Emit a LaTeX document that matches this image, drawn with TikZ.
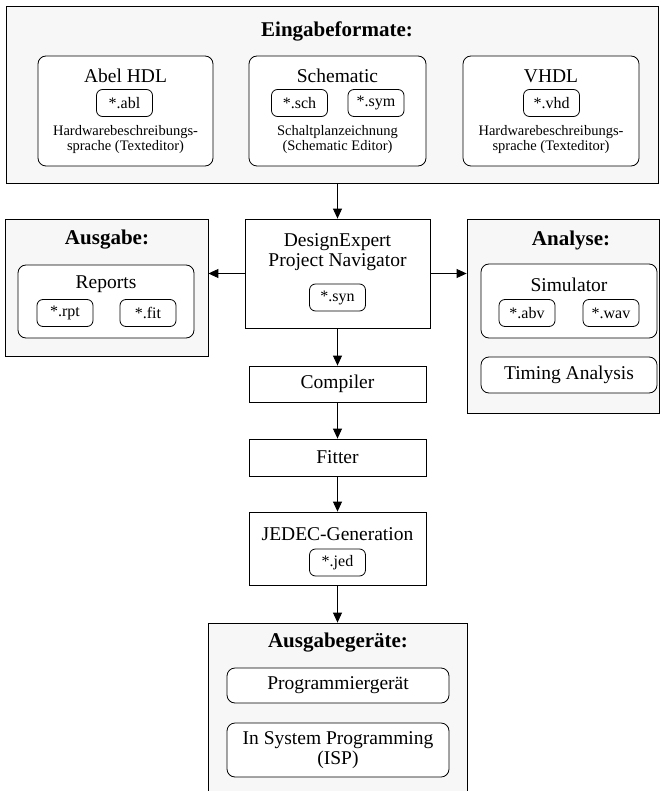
\documentclass[tikz,border=0pt]{standalone}
\usepackage{fontspec}
\setmainfont{Liberation Serif}
\usepackage{tikz}
\usetikzlibrary{shapes,arrows.meta}

\tikzset{
  box/.style={draw, line width=0.8pt, fill=white, inner sep=0pt},
  grp/.style={box, fill=gray!6},
  rbox/.style={box, rounded corners=8pt},
  file/.style={box, rounded corners=6pt, minimum width=56pt, minimum height=27pt,
    font=\fontsize{16}{18}\selectfont},
  title/.style={font=\fontsize{21}{23}\selectfont\bfseries},
  lbl/.style={font=\fontsize{19.5}{20.5}\selectfont, align=center},
  note/.style={font=\fontsize{14.5}{15.5}\selectfont, align=center},
  arr/.style={-{Triangle[length=10pt,width=9pt]}, line width=0.9pt},
}

\begin{document}
\begin{tikzpicture}[x=1pt, y=-1pt]
\clip (0,0) rectangle (661,791);

% Input formats
\node[grp, minimum width=652pt, minimum height=177pt] (eingabe) at (332,94.5) {};
\node[title] at (337,31) {Eingabeformate:};

\node[rbox, minimum width=175pt, minimum height=110pt] (abel) at (125.5,111) {};
\node[lbl] at (125.5,76) {Abel HDL};
\node[file] (abl) at (124.5,103) {*.abl};
\node[note] at (125.5,139.5) {Hardwarebeschreibungs-\\sprache (Texteditor)};

\node[rbox, minimum width=177pt, minimum height=110pt] (schematic) at (337.5,111) {};
\node[lbl] at (337.5,76) {Schematic};
\node[file] (sch) at (299.5,103) {*.sch};
\node[file] (sym) at (376,103) {*.sym};
\node[note] at (337.5,139.5) {Schaltplanzeichnung\\(Schematic Editor)};

\node[rbox, minimum width=176pt, minimum height=110pt] (vhdl) at (551,111) {};
\node[lbl] at (551,76) {VHDL};
\node[file] (vhd) at (551.5,103) {*.vhd};
\node[note] at (551,139.5) {Hardwarebeschreibungs-\\sprache (Texteditor)};

% Project navigator
\node[box, minimum width=185pt, minimum height=109pt] (design) at (337.5,273.5) {};
\node[lbl] at (337.5,252) {DesignExpert\\Project Navigator};
\node[file] (syn) at (337.5,297.5) {*.syn};

% Output
\node[grp, minimum width=203pt, minimum height=137pt] (ausgabe) at (106.5,287.5) {};
\node[title] at (107,240) {Ausgabe:};
\node[rbox, minimum width=176pt, minimum height=73pt] (reports) at (106,301.5) {};
\node[lbl] at (106,284) {Reports};
\node[file] (rpt) at (65,313) {*.rpt};
\node[file] (fit) at (148,313) {*.fit};

% Analysis
\node[grp, minimum width=192pt, minimum height=194pt] (analyse) at (563,316) {};
\node[title] at (571,240) {Analyse:};
\node[rbox, minimum width=176pt, minimum height=74pt] (simulator) at (569,301) {};
\node[lbl] at (569,285) {Simulator};
\node[file] (abv) at (527,313) {*.abv};
\node[file] (wav) at (611,313) {*.wav};
\node[rbox, lbl, minimum width=176pt, minimum height=36pt] (timing) at (569,375) {Timing Analysis};

% Processing chain
\node[box, lbl, minimum width=177pt, minimum height=36pt] (compiler) at (337.5,384) {Compiler};
\node[box, lbl, minimum width=177pt, minimum height=37pt] (fitter) at (337.5,457.5) {Fitter};
\node[box, minimum width=177pt, minimum height=73pt] (jedec) at (337.5,548.5) {};
\node[lbl] at (337.5,534) {JEDEC-Generation};
\node[file] (jed) at (337.5,562.5) {*.jed};

% Output devices
\node[grp, minimum width=259pt, minimum height=190pt] (geraete) at (337.5,718) {};
\node[title] at (338,643) {Ausgabeger\"ate:};
\node[rbox, lbl, minimum width=222pt, minimum height=35pt] (prog) at (338,685.5) {Programmierger\"at};
\node[rbox, lbl, minimum width=222pt, minimum height=54pt] (isp) at (338,750) {In System Programming\\(ISP)};

% Arrows
\draw[arr] (design.north |- eingabe.south) -- (design.north);
\draw[arr] (design.west) -- (design.west -| ausgabe.east);
\draw[arr] (design.east) -- (design.east -| analyse.west);
\draw[arr] (design.south) -- (compiler.north);
\draw[arr] (compiler.south) -- (fitter.north);
\draw[arr] (fitter.south) -- (jedec.north);
\draw[arr] (jedec.south) -- (geraete.north);

\end{tikzpicture}
\end{document}
